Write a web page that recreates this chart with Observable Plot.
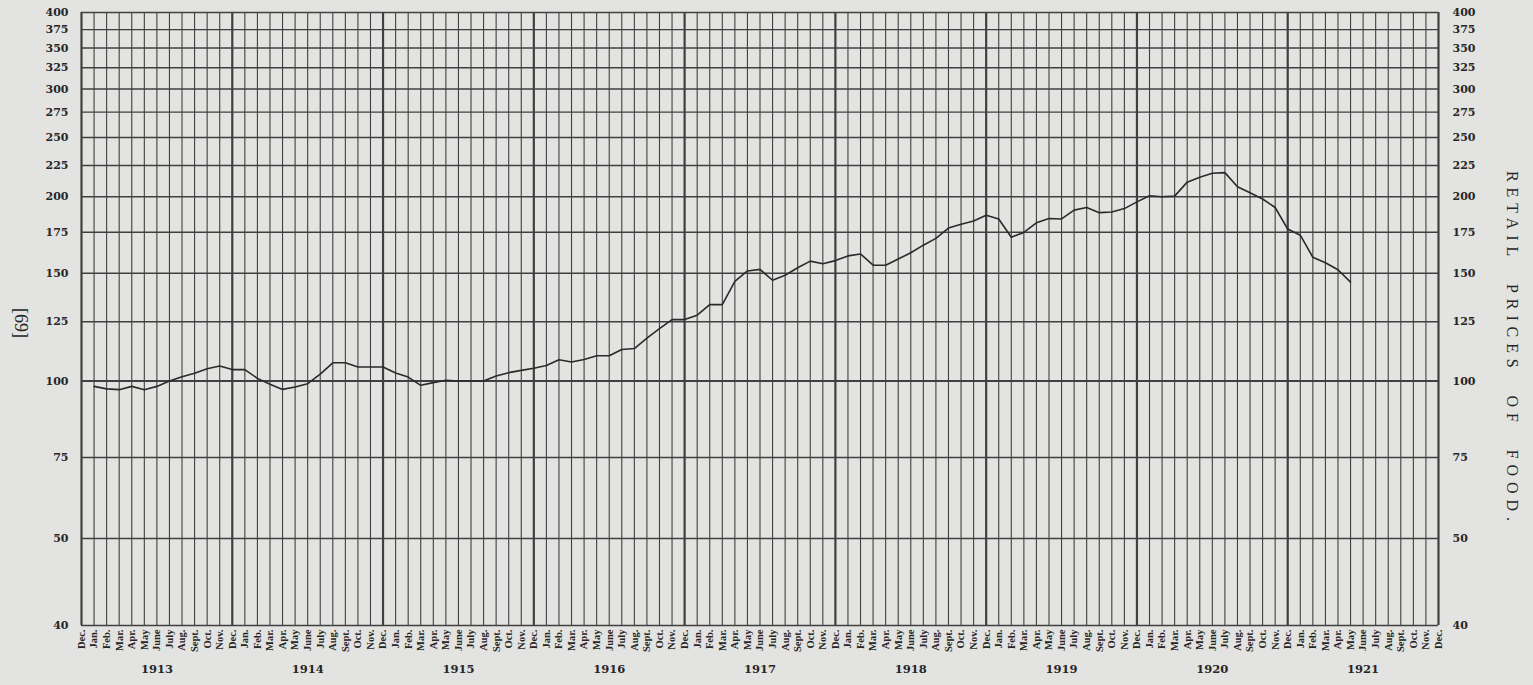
<!DOCTYPE html>
<html><head><meta charset="utf-8">
<script src="https://cdn.jsdelivr.net/npm/d3@7"></script>
<script src="https://cdn.jsdelivr.net/npm/@observablehq/plot@0.6"></script>
<style>
html,body{margin:0;padding:0;background:#e3e3e1;}
#chart{width:1533px;height:685px;overflow:hidden;}
</style></head><body><div id="chart"></div>
<script>
// Month tick labels (index 0 = Dec. 1912, index 108 = Dec. 1921)
const monthNames = ["Dec.","Jan.","Feb.","Mar.","Apr.","May","June","July","Aug.","Sept.","Oct.","Nov."];
const years = ["1913","1914","1915","1916","1917","1918","1919","1920","1921"];
const yTicks = [40,50,75,100,125,150,175,200,225,250,275,300,325,350,375,400];
// Retail prices of food, monthly, Jan. 1913 - May 1921
const foodIndex = [
  98, 97.1, 96.8, 98, 96.8, 98, 100, 101.6, 103, 104.7, 105.8, 104.4,      // 1913
  104.4, 101, 98.8, 96.9, 97.8, 99, 102.6, 107.1, 107.1, 105.4, 105.4, 105.4, // 1914
  103.1, 101.5, 98.4, 99.4, 100.3, 100, 100, 100, 101.9, 103.2, 104.1, 104.9, // 1915
  106, 108.3, 107.4, 108.4, 110, 110, 112.6, 113, 117.5, 121.8, 126, 126,     // 1916
  128.1, 133.3, 133.3, 145.5, 151.3, 152.2, 146.1, 148.9, 153.1, 157, 155.5, 157.3, // 1917
  160.1, 161.3, 154.6, 154.6, 158.2, 162, 166.7, 171, 177.8, 180.3, 182.6, 186.6,   // 1918
  183.9, 171.7, 174.9, 181.3, 184.3, 184, 190.2, 192.1, 188.4, 188.9, 191.3, 196.2, // 1919
  200.8, 200, 200.5, 211.3, 215.3, 218.5, 219, 207.7, 203.1, 198.3, 192.1, 177.1,   // 1920
  173.1, 159.3, 156, 152, 145.1                                                     // 1921
];
const title = "RETAIL\u2003PRICES\u2003OF\u2003FOOD.";
const pageNo = "[69]";

const monthIdx = d3.range(0, 109);
const series = foodIndex.map((v, i) => ({m: i + 1, v}));

const serif = "'Liberation Serif', 'Times New Roman', serif";
const numSerif = "'DejaVu Serif', serif";
const ink = "#404040";

const chart = Plot.plot({
  width: 1533, height: 685,
  marginTop: 12, marginBottom: 60, marginLeft: 81, marginRight: 95,
  style: {background: "#e3e3e1", fontFamily: serif, color: "#262626"},
  x: {type: "linear", domain: [0, 108], axis: null},
  y: {type: "log", domain: [40, 50, 75, 400], range: [625, 538, 457, 12], axis: null},
  marks: [
    Plot.ruleX(monthIdx, {x: d => d, stroke: ink, strokeWidth: d => d % 12 === 0 ? 2.2 : 1.1}),
    Plot.ruleY(yTicks, {y: d => d, stroke: ink, strokeWidth: d => d === 100 ? 2 : 1.4}),
    Plot.line(series, {x: "m", y: "v", stroke: "#2a2a2a", strokeWidth: 1.6, strokeLinejoin: "round"}),
    Plot.axisX(monthIdx, {anchor: "bottom", tickSize: 0, tickPadding: 4, tickRotate: -90,
      textAnchor: "end", lineAnchor: "middle", tickFormat: i => monthNames[i % 12],
      fontSize: 10.5, fontWeight: "bold", fontFamily: serif, label: null}),
    Plot.axisY(yTicks, {anchor: "left", tickSize: 0, tickPadding: 13, tickFormat: d => String(d),
      fontSize: 11, fontWeight: "bold", fontFamily: numSerif, label: null}),
    Plot.axisY(yTicks, {anchor: "right", tickSize: 0, tickPadding: 14, tickFormat: d => String(d),
      fontSize: 11, fontWeight: "bold", fontFamily: numSerif, label: null}),
    Plot.text(years, {x: (d, i) => 12 * i + 6, text: d => d, frameAnchor: "bottom", dy: 47,
      fontSize: 11.5, fontWeight: "bold", fontFamily: numSerif}),
    Plot.text([title], {text: d => d, frameAnchor: "right", textAnchor: "middle", lineAnchor: "middle",
      dx: 74, dy: 27, rotate: 90, fontSize: 16, fontFamily: serif}),
    Plot.text([pageNo], {text: d => d, frameAnchor: "left", textAnchor: "middle", lineAnchor: "middle",
      dx: -61, dy: 4, rotate: 90, fontSize: 18, fontFamily: serif})
  ]
});
document.getElementById("chart").appendChild(chart);
d3.select(chart).selectAll("text")
  .filter(function() { return this.textContent === title; })
  .attr("textLength", 350).attr("lengthAdjust", "spacing");
</script>
</body></html>
